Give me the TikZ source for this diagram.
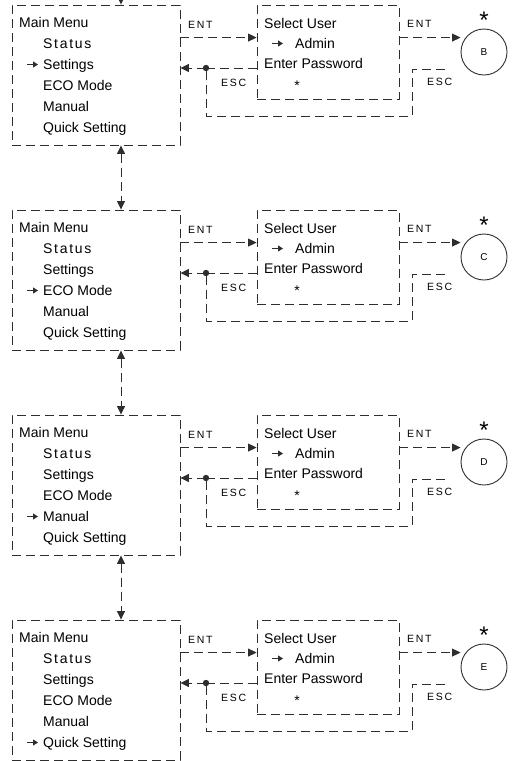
\documentclass[tikz,border=0pt]{standalone}
\usepackage{fontspec}
\setmainfont{Liberation Sans}
\newfontfamily\wide[LetterSpace=12]{Liberation Sans}
\newfontfamily\tagfont[LetterSpace=16]{Liberation Sans}
\usetikzlibrary{positioning}
\usetikzlibrary{arrows.meta}
\definecolor{ink}{HTML}{2E2E2E}

\begin{document}
\begin{tikzpicture}[x=1pt,y=-1pt,
  line/.style={draw=ink,line width=0.9pt,dash pattern=on 9pt off 5pt},
  tip/.style={-{Triangle[length=8.5pt,width=8pt]}},
  frame/.style={line,rectangle,inner sep=0pt},
  txt/.style={anchor=base west,inner sep=0pt,font=\fontsize{14}{16}\selectfont},
  tag/.style={anchor=base west,inner sep=0pt,font=\fontsize{10.5}{12}\tagfont},
  pick/.style={draw=ink,line width=1pt,-{Triangle[length=5pt,width=6pt]}}]
\clip (0,0) rectangle (515,761);
\foreach \row/\dy/\sel/\lbl in {1/0/2/B,2/205/3/C,3/410/4/D,4/615/5/E}{
  \node[frame,minimum width=168,minimum height=140] (menu\row) at (96,75+\dy) {};
  \node[txt] (head\row) at (19,27+\dy) {Main Menu};
  \foreach \t [count=\k] in {{\wide Status},Settings,ECO Mode,Manual,Quick Setting}
    \node[txt] (m\row\k) at (43,27+21*\k+\dy) {\t};
  \draw[pick] ([xshift=-16,yshift=4.5]m\row\sel.base west) -- ([xshift=-5,yshift=4.5]m\row\sel.base west);
  \node[frame,minimum width=142,minimum height=94] (pass\row) at (328,52+\dy) {};
  \node[txt] (user\row) at (264,28+\dy) {Select User};
  \node[txt] (admin\row) at (295,48+\dy) {Admin};
  \draw[pick] ([xshift=-23,yshift=4.5]admin\row.base west) -- ([xshift=-12,yshift=4.5]admin\row.base west);
  \node[txt] (pw\row) at (264,68+\dy) {Enter Password};
  \node[txt,anchor=base] (mask\row) at (297,90+\dy) {*};
  \node[circle,draw=ink,line width=0.9pt,minimum size=46,inner sep=0pt,font=\fontsize{10}{12}\selectfont] (st\lbl) at (484,52+\dy) {\lbl};
  \node[anchor=base,inner sep=0pt,font=\fontsize{24}{24}\selectfont] (star\row) at (484,28+\dy) {*};
  \node[tag] (enta\row) at (188,28+\dy) {ENT};
  \node[tag] (entb\row) at (407,27+\dy) {ENT};
  \node[tag] (esca\row) at (221,86+\dy) {ESC};
  \node[tag] (escb\row) at (427,85+\dy) {ESC};
  \coordinate (go\row) at ([yshift=-33]menu\row.north east);
  \coordinate (ok\row) at ([yshift=-33]pass\row.north east);
  \coordinate (dot\row) at (206,68+\dy);
  \coordinate (back\row) at (445,69+\dy);
  \coordinate (turn\row) at (412,116+\dy);
  \draw[line,tip] (go\row) -- (go\row -| pass\row.west);
  \draw[line,tip] (ok\row) -- (ok\row -| st\lbl.west);
  \draw[line] (pass\row.west |- dot\row) -- (dot\row);
  \draw[line,tip] (dot\row) -- (dot\row -| menu\row.east);
  \draw[line] (back\row) -| (turn\row) -| (dot\row);
  \fill[ink] (dot\row) circle (3.2);
}
\coordinate (entry) at (121,-12);
\draw[line,tip] (entry) -- (entry |- menu1.north);
\foreach \a/\b in {1/2,2/3,3/4}
  \draw[line,{Triangle[length=8.5pt,width=8pt]}-{Triangle[length=8.5pt,width=8pt]}] ([xshift=25]menu\a.south) -- ([xshift=25]menu\b.north);
\end{tikzpicture}
\end{document}
